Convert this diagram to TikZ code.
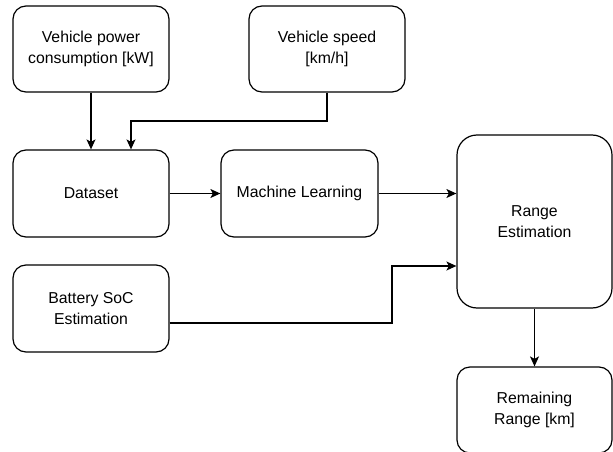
\documentclass[tikz,border=0pt]{standalone}
\usepackage{fontspec}
\setmainfont{Liberation Sans}
\usetikzlibrary{arrows.meta}
\begin{document}
\begin{tikzpicture}[x=1pt,y=-1pt,
  box/.style={draw, line width=1.2pt, rounded corners=13pt, align=center, inner sep=0pt,
              minimum width=156pt, minimum height=86pt, font=\fontsize{15.8}{21.5}\selectfont},
  conn/.style={draw, line width=1.2pt, -{Stealth[length=10pt,width=9pt,inset=2.5pt]}}]
\useasboundingbox (0,0) rectangle (613,452);
\node[box] (power) at (91,49) {Vehicle power\\consumption [kW]};
\node[box] (speed) at (327,49) {Vehicle speed\\{}[km/h]};
\node[box, minimum height=87pt] (data) at (91,193.5) {Dataset};
\node[box, minimum width=157pt, minimum height=87pt] (ml) at (299.5,193.5) {Machine Learning};
\node[box, minimum width=155pt, minimum height=173pt, rounded corners=20pt] (range) at (534.5,221.5) {Range\\Estimation};
\node[box, minimum height=87pt] (batt) at (91,308.5) {Battery SoC\\Estimation};
\node[box, minimum width=155pt] (rem) at (534.5,410) {Remaining\\Range [km]};
\coordinate (k1) at (131,121);
\coordinate (k2) at (392,323);
\coordinate (k3) at (392,266);
\draw[conn] (power.south) -- (data.north);
\draw[conn] (speed.south) |- (k1) -- (k1 |- data.north);
\draw[conn] (data.east) -- (ml.west);
\draw[conn] (ml.east) -- (ml.east -| range.west);
\draw[conn] (batt.east |- k2) -- (k2) -- (k3) -- (k3 -| range.west);
\draw[conn] (range.south) -- (rem.north);
\end{tikzpicture}
\end{document}
